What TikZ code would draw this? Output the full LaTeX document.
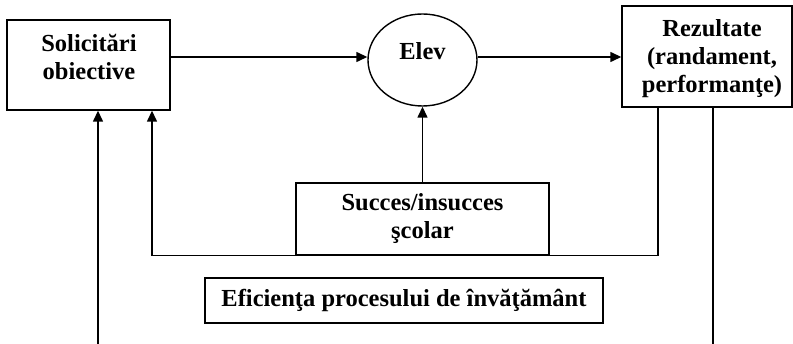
\documentclass[tikz,border=0pt]{standalone}
\usepackage{fontspec}
\setmainfont{Liberation Serif}
\usetikzlibrary{arrows.meta,shapes.geometric,calc}
\begin{document}
\begin{tikzpicture}[x=1pt,y=-1pt,
  box/.style={draw,line width=1.4pt,rectangle,inner sep=0pt},
  txt/.style={font=\fontsize{24.5}{28}\selectfont\bfseries,align=center,inner sep=0pt},
  arr/.style={line width=1.4pt,-{Triangle[length=11pt,width=10pt]}},
  ln/.style={line width=1.4pt}]
\useasboundingbox (0,0) rectangle (793,344);
\node[box,minimum width=163,minimum height=90] (sol) at (88.5,65) {};
\node[txt] (soltxt) at (89,57) {Solicitări\\obiective};
\node[draw,line width=1.4pt,ellipse,minimum width=109,minimum height=92,inner sep=0pt] (elev) at (422.5,60) {};
\node[txt] (elevtxt) at (422.5,51) {Elev};
\node[box,minimum width=170,minimum height=101] (rez) at (707,56.5) {};
\node[txt] (reztxt) at (712,59) {Rezultate\\(randament,\\performanţe)};
\node[box,minimum width=253,minimum height=72,txt] (suc) at (422.5,219) {Succes/insucces\\şcolar};
\node[box,minimum width=398,minimum height=45,txt] (efi) at (404,300.5) {Eficienţa procesului de învăţământ};
\coordinate (b1) at (98,344);
\coordinate (b2) at (713,344);
\draw[arr] (sol.east |- 0,57) -- (elev.west |- 0,57);
\draw[arr] (elev.east |- 0,57) -- (rez.west |- 0,57);
\draw[arr] (suc.north) -- (elev.south);
\draw[arr] (rez.south -| 658,0) |- (suc.south) -| (sol.south -| 152,0);
\draw[ln] (rez.south -| b2) -- (b2);
\draw[arr] (b1) -- (sol.south -| b1);
\end{tikzpicture}
\end{document}
